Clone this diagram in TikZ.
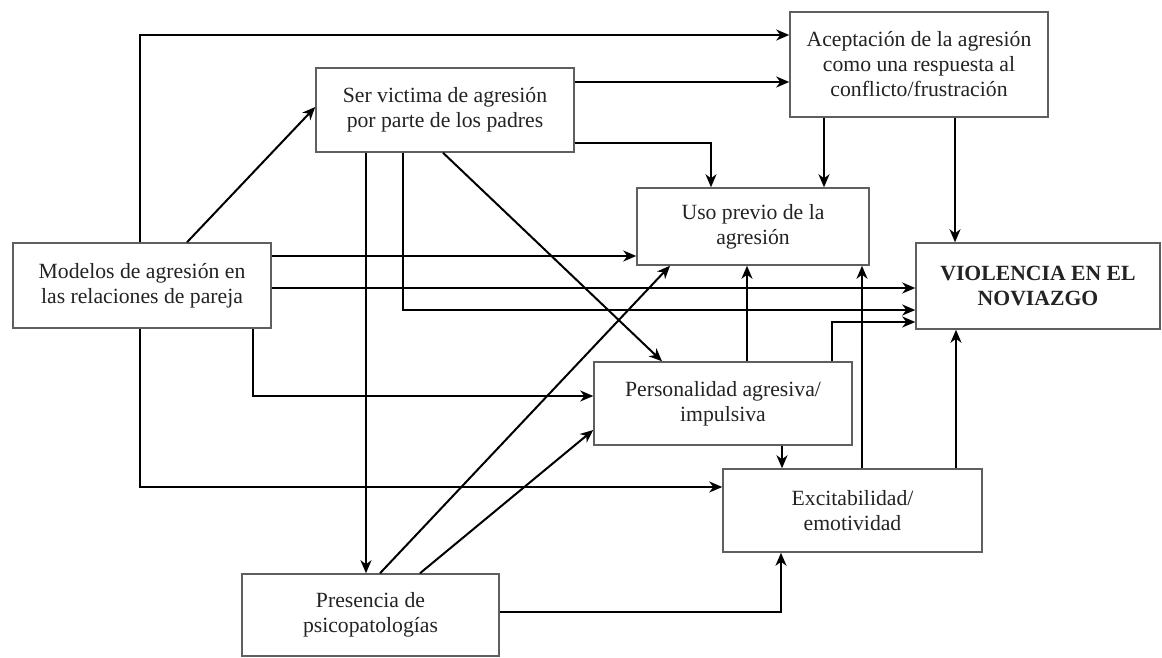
\documentclass[tikz,border=0pt]{standalone}
\usepackage{fontspec}
\setmainfont{Liberation Serif}
\usetikzlibrary{arrows.meta}
\definecolor{boxline}{RGB}{95,95,95}
\definecolor{txt}{RGB}{35,35,35}
\begin{document}
\begin{tikzpicture}[x=1pt,y=-1pt,
  box/.style={draw=boxline,line width=1.5pt,fill=white,rectangle,inner sep=0pt,align=center,
    text=txt,font=\fontsize{21.7}{25}\selectfont},
  arr/.style={line width=2pt,-{Stealth[length=13pt,width=11pt,inset=4pt]}}]
\useasboundingbox (0,0) rectangle (1162,657);
\fill[white] (0,0) rectangle (1162,657);
% nodes
\node[box,minimum width=258pt,minimum height=85pt] (mod) at (142,285.5) {Modelos de agresión en\\las relaciones de pareja};
\node[box,minimum width=258pt,minimum height=84pt] (ser) at (445,110) {Ser victima de agresión\\por parte de los padres};
\node[box,minimum width=258pt,minimum height=105pt] (ace) at (919,64.5) {Aceptación de la agresión\\como una respuesta al\\conflicto/frustración};
\node[box,minimum width=232pt,minimum height=77pt] (uso) at (753,226.5) {Uso previo de la\\agresión};
\node[box,minimum width=244pt,minimum height=86pt,font=\fontsize{21.7}{25}\selectfont\bfseries] (vio) at (1038,286) {VIOLENCIA EN EL\\NOVIAZGO};
\node[box,minimum width=258pt,minimum height=83pt] (per) at (723,403.5) {Personalidad agresiva/\\impulsiva};
\node[box,minimum width=259pt,minimum height=83pt] (exc) at (852.5,510.5) {Excitabilidad/\\emotividad};
\node[box,minimum width=257pt,minimum height=82pt] (pre) at (370.5,615) {Presencia de\\psicopatologías};
% connectors
\draw[arr] (140,0 |- mod.north) -- (140,35) -- (ace.west |- 0,35);
\draw[arr] (187,0 |- mod.north) -- (ser.west |- 0,107);
\draw[arr] (ser.east |- 0,82) -- (ace.west |- 0,82);
\draw[arr] (ser.east |- 0,143) -| (711,0 |- uso.north);
\draw[arr] (824,0 |- ace.south) -- (824,0 |- uso.north);
\draw[arr] (955,0 |- ace.south) -- (955,0 |- vio.north);
\draw[arr] (mod.east |- 0,256) -- (uso.west |- 0,256);
\draw[arr] (mod.east |- 0,288) -- (vio.west |- 0,288);
\draw[arr] (403,0 |- ser.south) |- (vio.west |- 0,310);
\draw[arr] (443,0 |- ser.south) -- (662,0 |- per.north);
\draw[arr] (366,0 |- ser.south) -- (366,0 |- pre.north);
\draw[arr] (253,0 |- mod.south) |- (per.west |- 0,396);
\draw[arr] (140,0 |- mod.south) |- (exc.west |- 0,487);
\draw[arr] (380,0 |- pre.north) -- (670,0 |- uso.south);
\draw[arr] (420,0 |- pre.north) -- (per.west |- 0,430);
\draw[arr] (pre.east |- 0,612) -| (781,0 |- exc.south);
\draw[arr] (747,0 |- per.north) -- (747,0 |- uso.south);
\draw[arr] (832,0 |- per.north) |- (vio.west |- 0,322);
\draw[arr] (782,0 |- per.south) -- (782,0 |- exc.north);
\draw[arr] (862,0 |- exc.north) -- (862,0 |- uso.south);
\draw[arr] (956,0 |- exc.north) -- (956,0 |- vio.south);
\end{tikzpicture}
\end{document}
